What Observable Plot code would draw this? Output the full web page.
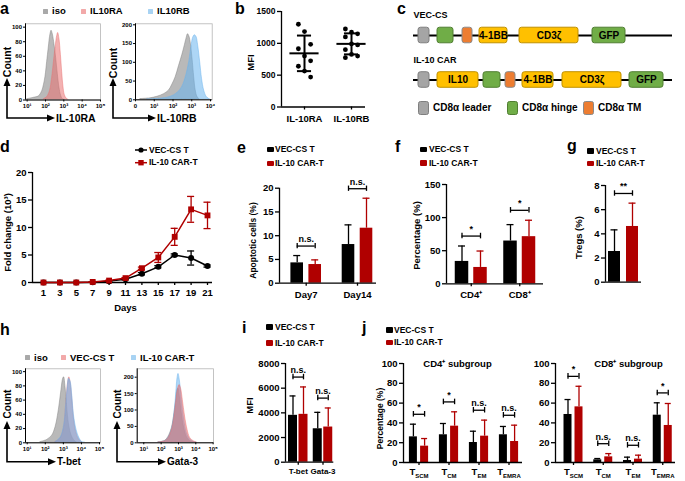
<!DOCTYPE html>
<html><head><meta charset="utf-8">
<script src="https://cdn.jsdelivr.net/npm/d3@7"></script>
<script src="https://cdn.jsdelivr.net/npm/@observablehq/plot@0.6"></script>
<style>
body{margin:0;background:#fff;}
#root{position:relative;width:685px;height:481px;overflow:hidden;font-family:"Liberation Sans",Arial,Helvetica,sans-serif;font-weight:bold;color:#000;background:#fff;}
</style></head><body><div id="root"></div>
<script>
// ================= DATA =================
// a: flow histograms (log10 intensity, count)
const aRaIsoLog   = [1.0,1.36,1.64,1.82,1.91,2.0,2.09,2.18,2.27,2.33,2.4,2.49,2.58,2.67,2.76,2.85,2.95,3.04];
const aRaIsoCount = [1,3,5,12,20,32,52,72,90,95,90,76,58,36,17,6,1,0];
const aRaLog      = [1.91,2.09,2.24,2.36,2.45,2.55,2.64,2.69,2.76,2.84,2.91,2.98,3.05,3.15,3.27];
const aRaCount    = [1,4,12,30,50,72,88,92,84,62,38,18,7,2,0];
const aRbIsoLog   = [0.27,0.8,1.16,1.52,1.79,1.96,2.14,2.32,2.5,2.63,2.73,2.8,2.88,2.95,3.04,3.13,3.21,3.3,3.4];
const aRbIsoCount = [2,4,8,15,25,40,60,90,120,145,165,175,168,150,110,60,25,8,2];
const aRbLog      = [0.62,1.34,1.88,2.23,2.5,2.68,2.86,2.98,3.07,3.16,3.25,3.34,3.45,3.55,3.66,3.79,3.93,4.0];
const aRbCount    = [1,3,8,18,35,60,100,140,165,172,168,145,100,55,25,8,2,0];
const aLegend     = ["iso","IL10RA","IL10RB"];
const aLeftXTicks = [10,100,1000,10000,100000];
const aLeftXLabels = ["10¹","10²","10³","10⁴","10⁵"];
const aRightXTicks = [1,10,100,1000,10000];
const aRightXLabels = ["0","10¹","10²","10³","10⁴"];
const aLeftYTicks = [0,20,40,60,80,100];
const aRightYTicks = [0,50,100,150,200];
const aXTitles = ["IL-10RA","IL-10RB"];

// b: MFI scatter
const bCats = ["IL-10RA","IL-10RB"];
const bRA = [1300,1185,985,915,800,725,640,565,470];
const bRB = [1225,1175,1150,1100,990,975,900,825,800,775];
const bYTicks = [0,500,1000,1500];

// c: constructs (domain order and relative lengths; "" = linker)
const cVecParts   = ["","leader","","hinge","","TM","","4-1BB","","CD3ζ","","GFP",""];
const cVecLengths = [5,11,8,16,9,10,7,28,12,59,14,33,47];
const cCarParts   = ["","leader","","IL10","","hinge","","TM","","4-1BB","","CD3ζ","","GFP",""];
const cCarLengths = [5,11,8,41,5,17,5,10,7,31,9,59,8,34,9];
const cRowNames   = ["VEC-CS","IL-10 CAR"];
const cLegendParts = ["leader","hinge","TM"];
const cLegendNames = ["CD8α leader","CD8α hinge","CD8α TM"];
const cLabeled = ["IL10","4-1BB","CD3ζ","GFP"];

// d: expansion
const dDays    = [1,3,5,7,9,11,13,15,17,19,21];
const dVecMean = [0,0,0,0.05,0.25,0.6,1.6,2.85,5.0,4.45,3.0];
const dVecSd   = [0,0,0,0.02,0.05,0.1,0.2,0.2,0.2,1.28,0.2];
const dCarMean = [0,0,0,0.1,0.35,0.8,2.6,4.55,8.3,13.3,12.2];
const dCarSd   = [0,0,0,0.03,0.05,0.1,0.2,0.9,1.55,2.35,2.4];
const dYTicks  = [0,5,10,15,20];
const series   = ["VEC-CS T","IL-10 CAR-T"];

// e: apoptosis
const eCats = ["Day7","Day14"];
const eVecMean = [4.28,8.14], eVecSd = [1.54,4.14];
const eCarMean = [3.93,11.58], eCarSd = [0.98,6.31];
const eSig = ["n.s.","n.s."];
const eYTicks = [0,5,10,15,20];

// f: CD4/CD8
const fCats = ["CD4⁺","CD8⁺"];
const fVecMean = [33.8,64.6], fVecSd = [23.3,24.8];
const fCarMean = [24.7,71.2], fCarSd = [24.8,24.8];
const fSig = ["*","*"];
const fYTicks = [0,50,100,150];

// g: Tregs
const gCats = [""];
const gVecMean = [2.54], gVecSd = [1.79];
const gCarMean = [4.61], gCarSd = [1.93];
const gSig = ["**"];
const gYTicks = [0,2,4,6,8];

// h: T-bet / Gata-3 histograms
const hTbIsoLog   = [1.74,2.1,2.38,2.57,2.7,2.8,2.9,2.99,3.04,3.12,3.21,3.3,3.43,3.58,3.76];
const hTbIsoCount = [1,4,10,22,38,55,75,90,92,78,50,28,12,4,0];
const hTbVecLog   = [2.57,2.84,3.03,3.16,3.25,3.33,3.4,3.5,3.58,3.71,3.86,4.04];
const hTbVecCount = [1,6,20,55,82,92,85,60,35,15,5,0];
const hTbCarLog   = [2.57,2.84,3.03,3.16,3.25,3.31,3.4,3.5,3.58,3.73,3.88,4.04,4.22];
const hTbCarCount = [1,7,22,55,80,90,86,64,40,18,7,1,0];
const hGaIsoLog   = [1.85,2.23,2.42,2.62,2.77,2.87,2.94,3.0,3.08,3.19,3.33,3.48,3.67,3.87];
const hGaIsoCount = [1,6,18,45,90,130,160,165,140,90,45,18,5,1];
const hGaVecLog   = [1.85,2.23,2.42,2.62,2.77,2.87,2.96,3.06,3.15,3.25,3.38,3.52,3.67,3.87,4.06];
const hGaVecCount = [1,5,14,38,80,125,160,176,165,130,80,40,15,5,1];
const hGaCarLog   = [1.85,2.23,2.42,2.62,2.77,2.87,2.94,3.0,3.08,3.19,3.33,3.48,3.67,3.87,4.06];
const hGaCarCount = [1,5,15,40,90,150,195,210,190,130,70,30,10,3,0];
const hLegend = ["iso","VEC-CS T","IL-10 CAR-T"];
const hXTicks = [10,100,1000,10000,100000];
const hXLabels = ["10¹","10²","10³","10⁴","10⁵"];
const hLeftYTicks = [0,20,40,60,80,100];
const hRightYTicks = [0,50,100,150,200];
const hXTitles = ["T-bet","Gata-3"];

// i: T-bet / Gata-3 MFI
const iCats = ["T-bet","Gata-3"];
const iVecMean = [3800,2710], iVecSd = [1570,1330];
const iCarMean = [3880,2850], iCarSd = [2220,1545];
const iSig = ["n.s.","n.s."];
const iYTicks = [0,2000,4000,6000,8000];

// j: memory subsets
const jSubs = ["SCM","CM","EM","EMRA"];
const jCd4VecMean = [25.9,28.0,20.2,28.0], jCd4VecSd = [12.8,11.4,11.4,8.4];
const jCd4CarMean = [16.5,36.7,26.6,21.2], jCd4CarSd = [7.7,14.5,16.2,16.5];
const jCd4Sig = ["*","*","n.s.","n.s."];
const jCd8VecMean = [48.5,2.7,2.0,47.8], jCd8VecSd = [15.1,1.3,3.4,12.5];
const jCd8CarMean = [56.2,5.7,3.4,37.4], jCd8CarSd = [20.8,3.3,4.0,22.2];
const jCd8Sig = ["*","n.s.","n.s.","*"];
const jYTicks = [0,20,40,60,80,100];
const jTitles = ["CD4⁺ subgroup","CD8⁺ subgroup"];

// ================= STYLE / HELPERS =================
const BLACK = "#000000", RED = "#b00000";
const FONT = "'Liberation Sans', Arial, Helvetica, sans-serif";
const baseStyle = {fontFamily: FONT, fontWeight: "bold", fontSize: "10px", background: "none", overflow: "visible", color: "#000"};
const HGREY = "#808080", HPINK = "#e97171", HBLUE = "#69b4ee";
const root = document.getElementById("root");

function addPlot(p, box) {
  p.style.position = "absolute"; p.style.left = box.x + "px"; p.style.top = box.y + "px";
  root.appendChild(p);
}
function mg(box, fr) {
  return {width: box.w, height: box.h, marginLeft: fr.l - box.x, marginRight: box.x + box.w - fr.r,
          marginTop: fr.t - box.y, marginBottom: box.y + box.h - fr.b};
}
function yTitle(text, fr, cx, cy, fs) {
  return Plot.text([text], {text: d => d, frameAnchor: "left", textAnchor: "middle", lineAnchor: "middle", rotate: -90,
    dx: cx - fr.l, dy: cy - (fr.t + fr.b) / 2, fontSize: fs});
}
function htmlText(x, cy, txt, fs) {
  const d = document.createElement("div");
  d.textContent = txt;
  Object.assign(d.style, {position: "absolute", left: x + "px", top: (cy - fs / 2) + "px", fontSize: fs + "px",
    lineHeight: fs + "px", fontWeight: "bold", whiteSpace: "nowrap", zIndex: 5});
  root.appendChild(d);
}
function htmlSq(x, cy, w, h, color, border, radius) {
  const d = document.createElement("div");
  Object.assign(d.style, {position: "absolute", left: x + "px", top: (cy - h / 2) + "px", width: w + "px", height: h + "px",
    background: color, boxSizing: "border-box", border: border || "none", borderRadius: (radius || 1) + "px", zIndex: 5});
  root.appendChild(d);
}
function letter(x, baseline, ch) {
  const d = document.createElement("div");
  d.textContent = ch;
  Object.assign(d.style, {position: "absolute", left: x + "px", top: (baseline - 13.5) + "px", fontSize: "16px", lineHeight: "16px", fontWeight: "bold", zIndex: 5});
  root.appendChild(d);
}

// ---------- histogram panel ----------
function histPanel({box, fr, xLog, yMax, xTicks, xLabels, yTicks, layers}) {
  const p = Plot.plot({
    ...mg(box, fr), style: baseStyle,
    x: {type: "log", domain: [10 ** xLog[0], 10 ** xLog[1]]},
    y: {domain: [0, yMax]},
    marks: [
      ...layers.map(L => Plot.areaY(L.log.map((l, k) => ({x: 10 ** l, y: L.count[k]})),
        {x: "x", y: "y", fill: L.color, fillOpacity: 0.55, stroke: L.color, strokeOpacity: 0.8, strokeWidth: 0.6, curve: "catmull-rom", clip: true})),
      Plot.frame({stroke: "#b5b5b5", strokeWidth: 0.8}),
      Plot.ruleX([10 ** xLog[0]], {stroke: "#000", strokeWidth: 1}),
      Plot.ruleY([0], {stroke: "#000", strokeWidth: 1}),
      Plot.axisY({ticks: yTicks, tickSize: 2, tickPadding: 1.5, fontSize: 6, label: null, tickFormat: d => String(d)}),
      Plot.axisX({ticks: xTicks, tickSize: 2, tickPadding: 2, fontSize: 6, label: null, tickFormat: d => xLabels[xTicks.indexOf(d)]})
    ]
  });
  addPlot(p, box);
}

// ---------- grouped bar panel ----------
function barPanel(o) {
  const {box, fr, c0, step, off, hw, cap, cats, vm, vs, cm, cs, sig, yTicks, yLabel, yLabelAt, yLabelFs, title, titleAt, xFmt, fs = 9.5, xfs, tickPad = 3} = o;
  const yMax = yTicks[yTicks.length - 1];
  const xd = [(fr.l - c0) / step, (fr.r - c0) / step];
  const o1 = off / step, h1 = hw / step, k1 = cap / step;
  const rows = cats.flatMap((c, i) => [
    {i, x: i - o1, m: vm[i], s: vs[i], col: BLACK},
    {i, x: i + o1, m: cm[i], s: cs[i], col: RED}]);
  const br = cats.map((c, i) => ({i, b: Math.max(vm[i] + vs[i], cm[i] + cs[i]) + 0.1 * yMax, t: sig[i]}));
  const ends = br.flatMap(d => [{x: d.i - o1, b: d.b}, {x: d.i + o1, b: d.b}]);
  const e = 0.028 * yMax;
  const marks = [
    Plot.rect(rows, {x1: d => d.x - h1, x2: d => d.x + h1, y1: 0, y2: "m", fill: "col"}),
    Plot.ruleX(rows, {x: "x", y1: "m", y2: d => d.m + d.s, stroke: "col", strokeWidth: 1.3}),
    Plot.ruleY(rows, {y: d => d.m + d.s, x1: d => d.x - k1, x2: d => d.x + k1, stroke: "col", strokeWidth: 1.3}),
    Plot.ruleY(br, {y: "b", x1: d => d.i - o1, x2: d => d.i + o1, strokeWidth: 1.3}),
    Plot.ruleX(ends, {x: "x", y1: d => d.b - e, y2: d => d.b + e, strokeWidth: 1.3}),
    Plot.text(br, {x: "i", y: "b", text: "t", dy: -7, fontSize: 9}),
    Plot.ruleY([0], {strokeWidth: 1.3}),
    Plot.ruleX([xd[0]], {strokeWidth: 1.3}),
    Plot.axisY({ticks: yTicks, tickSize: 4, tickPadding: 2, label: null, fontSize: fs, tickFormat: d => String(d), strokeWidth: 1.3}),
    Plot.axisX({ticks: cats.map((c, i) => i), tickSize: cats[0] ? 3 : 0, tickPadding: tickPad, label: null, fontSize: xfs || fs,
      tickFormat: xFmt || (i => cats[i]), strokeWidth: 1.3})
  ];
  if (yLabel) marks.push(yTitle(yLabel, fr, yLabelAt[0], yLabelAt[1], yLabelFs || fs));
  if (title) marks.push(Plot.text([title], {text: d => d, frameAnchor: "top", lineAnchor: "middle", textAnchor: "middle",
    dx: titleAt[0] - (fr.l + fr.r) / 2, dy: titleAt[1] - fr.t, fontSize: fs}));
  const p = Plot.plot({...mg(box, fr), style: baseStyle, x: {domain: xd}, y: {domain: [0, yMax]}, color: {type: "identity"}, marks});
  // subscript labels (T_SCM etc.)
  p.querySelectorAll("text").forEach(t => {
    const s = t.textContent;
    if (s.startsWith("T|")) {
      t.textContent = "";
      const a = document.createElementNS("http://www.w3.org/2000/svg", "tspan"); a.textContent = "T"; t.appendChild(a);
      const b = document.createElementNS("http://www.w3.org/2000/svg", "tspan"); b.textContent = s.slice(2);
      b.setAttribute("font-size", "6"); b.setAttribute("dy", "3"); t.appendChild(b);
    }
  });
  addPlot(p, box);
}

// ================= PANEL a =================
histPanel({box: {x: 0, y: 15, w: 108, h: 100}, fr: {l: 25, r: 100, t: 23.3, b: 99.5}, xLog: [0.91, 5], yMax: 104.6,
  xTicks: aLeftXTicks, xLabels: aLeftXLabels, yTicks: aLeftYTicks,
  layers: [{log: aRaIsoLog, count: aRaIsoCount, color: HGREY}, {log: aRaLog, count: aRaCount, color: HPINK}]});
histPanel({box: {x: 110, y: 15, w: 110, h: 100}, fr: {l: 135, r: 211.7, t: 23.3, b: 99.3}, xLog: [0, 4.09], yMax: 202.7,
  xTicks: aRightXTicks, xLabels: aRightXLabels, yTicks: aRightYTicks,
  layers: [{log: aRbIsoLog, count: aRbIsoCount, color: HGREY}, {log: aRbLog, count: aRbCount, color: HBLUE}]});
[[43, "#a9a9a9"], [81, "#f2a9a9"], [148, "#a8d3f3"]].forEach(([x, c], k) => {
  htmlSq(x, 11, 5, 5, c, null, 0.5); htmlText(x + 9, 11, aLegend[k], 9.5);
});

// ================= PANEL b =================
{
  const box = {x: 225, y: 0, w: 155, h: 135}, fr = {l: 281, r: 365, t: 11, b: 106.5};
  const c0 = 304, step = 47;
  const xd = [(fr.l - c0) / step, (fr.r - c0) / step];
  const groups = [bRA, bRB];
  const stats = groups.map((v, i) => ({i, mean: d3.mean(v), sd: d3.deviation(v)}));
  const pts = groups.flatMap((v, i) => {
    const order = d3.sort(d3.range(v.length), k => -v[k]);
    return order.map((k, r) => ({i, v: v[k], x: i + ((r % 3) - 1) * 0.13}));
  });
  const p = Plot.plot({
    ...mg(box, fr), style: baseStyle, x: {domain: xd}, y: {domain: [0, 1500]},
    marks: [
      Plot.ruleY([0], {strokeWidth: 1.3}),
      Plot.ruleX([xd[0]], {strokeWidth: 1.3}),
      Plot.dot(pts, {x: "x", y: "v", r: 2.4, fill: BLACK}),
      Plot.ruleY(stats, {y: "mean", x1: d => d.i - 0.31, x2: d => d.i + 0.31, strokeWidth: 2}),
      Plot.ruleX(stats, {x: "i", y1: d => d.mean - d.sd, y2: d => d.mean + d.sd, strokeWidth: 2}),
      Plot.ruleY(stats, {y: d => d.mean + d.sd, x1: d => d.i - 0.15, x2: d => d.i + 0.15, strokeWidth: 2}),
      Plot.ruleY(stats, {y: d => d.mean - d.sd, x1: d => d.i - 0.15, x2: d => d.i + 0.15, strokeWidth: 2}),
      Plot.axisY({ticks: bYTicks, tickSize: 4, tickPadding: 2, label: null, fontSize: 8.5, tickFormat: d => String(d), strokeWidth: 1.3}),
      Plot.axisX({ticks: [0, 1], tickSize: 3, tickPadding: 5, label: null, fontSize: 9.5, tickFormat: i => bCats[i], strokeWidth: 1.3}),
      yTitle("MFI", fr, 250, 62, 9.5)
    ]
  });
  addPlot(p, box);
}

// ================= PANEL c =================
{
  const box = {x: 400, y: 0, w: 285, h: 100}, fr = {l: 413, r: 672, t: 10, b: 100};
  const partStyle = {
    leader: {fill: "#a5a5a5", stroke: "#7f7f7f"}, hinge: {fill: "#70ad47", stroke: "#507e32"},
    TM: {fill: "#ed7d31", stroke: "#8a8a8a"}, IL10: {fill: "#ffc000", stroke: "#bf9000"},
    "4-1BB": {fill: "#ffc000", stroke: "#bf9000"}, "CD3ζ": {fill: "#ffc000", stroke: "#bf9000"},
    GFP: {fill: "#70ad47", stroke: "#507e32"}
  };
  const layout = (parts, lengths, row) => { let x = 0; return parts.map((p, k) => { const s = x; x += lengths[k]; return {part: p, row, x1: s, x2: x, mid: (s + x) / 2}; }); };
  const segs = [...layout(cVecParts, cVecLengths, 0), ...layout(cCarParts, cCarLengths, 1)];
  const boxes = segs.filter(d => d.part !== "");
  const rows = [{row: 0, name: cRowNames[0], total: d3.sum(cVecLengths)}, {row: 1, name: cRowNames[1], total: d3.sum(cCarLengths)}];
  const yd = [(fr.b - 35) / 44.5, (fr.t - 35) / 44.5];
  const p = Plot.plot({
    ...mg(box, fr), style: baseStyle, x: {domain: [0, 259], axis: null}, y: {domain: yd, axis: null}, color: {type: "identity"},
    marks: [
      Plot.ruleY(rows, {y: "row", x1: 0, x2: "total", strokeWidth: 2}),
      Plot.rect(boxes, {x1: "x1", x2: "x2", y1: d => d.row - 0.175, y2: d => d.row + 0.175,
        fill: d => partStyle[d.part].fill, stroke: d => partStyle[d.part].stroke, strokeWidth: 1, rx: 2.5}),
      Plot.text(boxes.filter(d => cLabeled.includes(d.part)), {x: "mid", y: "row", text: "part", fontSize: 10}),
      Plot.text(rows, {x: 0, y: "row", text: "name", textAnchor: "start", dy: -20, fontSize: 9})
    ]
  });
  addPlot(p, box);
  const lx = [418, 507, 583];
  cLegendParts.forEach((pt, k) => {
    htmlSq(lx[k], 107.5, 11, 14, partStyle[pt].fill, "1px solid " + partStyle[pt].stroke, 2.5);
    htmlText(lx[k] + 15, 108, cLegendNames[k], 10);
  });
}

// ================= PANEL d =================
{
  const box = {x: 0, y: 165, w: 225, h: 150}, fr = {l: 32, r: 212, t: 172, b: 282};
  const pxDay = 8.2;
  const xd = [1 - (43 - fr.l) / pxDay, 21 + (fr.r - 207) / pxDay];
  const vec = dDays.map((d, i) => ({day: d, m: dVecMean[i], s: dVecSd[i]}));
  const car = dDays.map((d, i) => ({day: d, m: dCarMean[i], s: dCarSd[i]}));
  const cap = 0.43;
  const errMarks = (rows, col) => [
    Plot.ruleX(rows.filter(d => d.s > 0), {x: "day", y1: d => d.m - d.s, y2: d => d.m + d.s, stroke: col, strokeWidth: 1.3}),
    Plot.ruleY(rows.filter(d => d.s > 0), {y: d => d.m + d.s, x1: d => d.day - cap, x2: d => d.day + cap, stroke: col, strokeWidth: 1.3}),
    Plot.ruleY(rows.filter(d => d.s > 0), {y: d => d.m - d.s, x1: d => d.day - cap, x2: d => d.day + cap, stroke: col, strokeWidth: 1.3})
  ];
  const p = Plot.plot({
    ...mg(box, fr), style: baseStyle, x: {domain: xd}, y: {domain: [0, 20]},
    marks: [
      Plot.ruleY([0], {strokeWidth: 1.3}),
      Plot.ruleX([xd[0]], {strokeWidth: 1.3}),
      Plot.axisY({ticks: dYTicks, tickSize: 4, tickPadding: 2, label: null, fontSize: 9.5, strokeWidth: 1.3}),
      Plot.axisX({ticks: dDays, tickSize: 3, tickPadding: 4, label: null, fontSize: 9.5, strokeWidth: 1.3}),
      Plot.text(["Days"], {text: d => d, frameAnchor: "bottom", lineAnchor: "middle", dx: 3, dy: 25, fontSize: 9.5}),
      yTitle("Fold change (10³)", fr, 7, 232, 9.5),
      ...errMarks(vec, BLACK),
      Plot.line(vec, {x: "day", y: "m", stroke: BLACK, strokeWidth: 1.5}),
      Plot.dot(vec, {x: "day", y: "m", r: 3, fill: BLACK}),
      ...errMarks(car, RED),
      Plot.line(car, {x: "day", y: "m", stroke: RED, strokeWidth: 1.5}),
      Plot.dot(car, {x: "day", y: "m", r: 3.3, fill: RED, symbol: "square"})
    ]
  });
  addPlot(p, box);
}

// ================= PANELS e, f, g =================
barPanel({box: {x: 225, y: 175, w: 155, h: 130}, fr: {l: 279, r: 376, t: 187.7, b: 282.7}, c0: 305.7, step: 51.3, off: 9, hw: 6.3, cap: 3.5,
  cats: eCats, vm: eVecMean, vs: eVecSd, cm: eCarMean, cs: eCarSd, sig: eSig, yTicks: eYTicks,
  yLabel: "Apoptotic cells (%)", yLabelAt: [253, 240], yLabelFs: 8.5, tickPad: 5});
barPanel({box: {x: 380, y: 175, w: 170, h: 130}, fr: {l: 446, r: 543, t: 184, b: 283.3}, c0: 470.75, step: 48.5, off: 9.25, hw: 6.75, cap: 3.5,
  cats: fCats, vm: fVecMean, vs: fVecSd, cm: fCarMean, cs: fCarSd, sig: fSig, yTicks: fYTicks,
  yLabel: "Percentage (%)", yLabelAt: [416, 235], tickPad: 4});
barPanel({box: {x: 555, y: 175, w: 130, h: 130}, fr: {l: 605, r: 641, t: 185, b: 281.7}, c0: 623, step: 40, off: 9, hw: 6, cap: 3.5,
  cats: gCats, vm: gVecMean, vs: gVecSd, cm: gCarMean, cs: gCarSd, sig: gSig, yTicks: gYTicks,
  yLabel: "Tregs (%)", yLabelAt: [578, 237]});

// ================= PANEL h =================
histPanel({box: {x: 0, y: 360, w: 108, h: 100}, fr: {l: 25, r: 100, t: 368.3, b: 442.3}, xLog: [0.906, 5.055], yMax: 104,
  xTicks: hXTicks, xLabels: hXLabels, yTicks: hLeftYTicks,
  layers: [{log: hTbIsoLog, count: hTbIsoCount, color: HGREY}, {log: hTbVecLog, count: hTbVecCount, color: HPINK}, {log: hTbCarLog, count: hTbCarCount, color: HBLUE}]});
histPanel({box: {x: 110, y: 360, w: 110, h: 100}, fr: {l: 136.7, r: 213, t: 368.3, b: 442.3}, xLog: [0.62, 5.02], yMax: 225.6,
  xTicks: hXTicks, xLabels: hXLabels, yTicks: hRightYTicks,
  layers: [{log: hGaIsoLog, count: hGaIsoCount, color: HGREY}, {log: hGaCarLog, count: hGaCarCount, color: HBLUE}, {log: hGaVecLog, count: hGaVecCount, color: HPINK}]});
[[25, "#a9a9a9"], [61, "#f2a9a9"], [131, "#a8d3f3"]].forEach(([x, c], k) => {
  htmlSq(x, 357.7, 5, 5, c, null, 0.5); htmlText(x + 9, 357.7, hLegend[k], 9.5);
});

// ================= PANEL i =================
barPanel({box: {x: 225, y: 350, w: 115, h: 131}, fr: {l: 285, r: 333.3, t: 363, b: 461.7}, c0: 297.75, step: 24.75, off: 5.25, hw: 4.5, cap: 3,
  cats: iCats, vm: iVecMean, vs: iVecSd, cm: iCarMean, cs: iCarSd, sig: iSig, yTicks: iYTicks, xfs: 8,
  yLabel: "MFI", yLabelAt: [249, 405]});

// ================= PANEL j =================
barPanel({box: {x: 370, y: 350, w: 157, h: 131}, fr: {l: 403, r: 522, t: 363, b: 462}, c0: 418.5, step: 30, off: 5.6, hw: 4, cap: 3,
  cats: jSubs, vm: jCd4VecMean, vs: jCd4VecSd, cm: jCd4CarMean, cs: jCd4CarSd, sig: jCd4Sig, yTicks: jYTicks,
  yLabel: "Percentage (%)", yLabelAt: [380, 418], yLabelFs: 8.5, title: jTitles[0], titleAt: [457, 363], xFmt: i => "T|" + jSubs[i]});
barPanel({box: {x: 527, y: 350, w: 158, h: 131}, fr: {l: 555, r: 675, t: 363, b: 462}, c0: 573, step: 29.75, off: 5.5, hw: 4, cap: 3,
  cats: jSubs, vm: jCd8VecMean, vs: jCd8VecSd, cm: jCd8CarMean, cs: jCd8CarSd, sig: jCd8Sig, yTicks: jYTicks,
  title: jTitles[1], titleAt: [628, 363], xFmt: i => "T|" + jSubs[i]});

// ================= legends (d, e, f, g, i, j) =================
function barLegend(x, cy1, cy2, tx) {
  htmlSq(x, cy1, 7, 5.5, BLACK, null, 1); htmlText(tx, cy1, series[0], 8.5);
  htmlSq(x, cy2, 7, 5.5, RED, null, 1); htmlText(tx, cy2, series[1], 8.5);
}
barLegend(267, 149.5, 163.3, 275);
barLegend(420, 149.5, 163, 429);
barLegend(587, 151, 163.3, 596);
barLegend(266, 327, 343, 275);
barLegend(386, 330, 342.5, 394);
htmlText(149, 150, series[0], 8.5);
htmlText(149, 162.7, series[1], 8.5);

// ================= overlay: arrows & markers =================
const ov = d3.select(root).append("svg").attr("width", 685).attr("height", 481)
  .style("position", "absolute").style("left", "0").style("top", "0").style("pointer-events", "none").style("z-index", 6)
  .style("font-family", FONT).style("font-weight", "bold");
function arrowL(cx, cy, upTip, rightTip, labY, xLab, fs) {
  ov.append("path").attr("d", `M${cx},${upTip + 6}V${cy}H${rightTip - 6}`).attr("fill", "none").attr("stroke", "#000").attr("stroke-width", 1.6);
  ov.append("path").attr("d", `M${cx},${upTip}L${cx - 3.5},${upTip + 8}L${cx + 3.5},${upTip + 8}Z`).attr("fill", "#000");
  ov.append("path").attr("d", `M${rightTip},${cy}L${rightTip - 8},${cy - 3.5}L${rightTip - 8},${cy + 3.5}Z`).attr("fill", "#000");
  ov.append("text").attr("transform", `translate(${cx},${labY}) rotate(-90)`).attr("text-anchor", "middle").attr("dy", "0.35em").attr("font-size", fs).text("Count");
  ov.append("text").attr("x", rightTip + 1).attr("y", cy).attr("dy", "0.35em").attr("font-size", fs).text(xLab);
}
arrowL(7, 118, 78, 55, 62, aXTitles[0], 10.5);
arrowL(113, 118, 78, 156, 63, aXTitles[1], 10.5);
arrowL(7, 461.7, 421, 56, 404, hXTitles[0], 10);
arrowL(117, 461.7, 421, 166, 404, hXTitles[1], 10);
// d legend markers
ov.append("line").attr("x1", 135).attr("x2", 147).attr("y1", 150).attr("y2", 150).attr("stroke", BLACK).attr("stroke-width", 1.5);
ov.append("circle").attr("cx", 141).attr("cy", 150).attr("r", 2.6).attr("fill", BLACK);
ov.append("line").attr("x1", 135).attr("x2", 147).attr("y1", 162.7).attr("y2", 162.7).attr("stroke", RED).attr("stroke-width", 1.5);
ov.append("rect").attr("x", 138.3).attr("y", 160).attr("width", 5.4).attr("height", 5.4).attr("fill", RED);

// ================= panel letters =================
[["a", 0, 14], ["b", 235, 14], ["c", 397, 14], ["d", 0, 152], ["e", 237, 153], ["f", 395, 152], ["g", 567, 151.7],
 ["h", 0, 335], ["i", 242, 333], ["j", 362, 333]].forEach(([ch, x, b]) => letter(x, b, ch));
</script>
</body></html>
